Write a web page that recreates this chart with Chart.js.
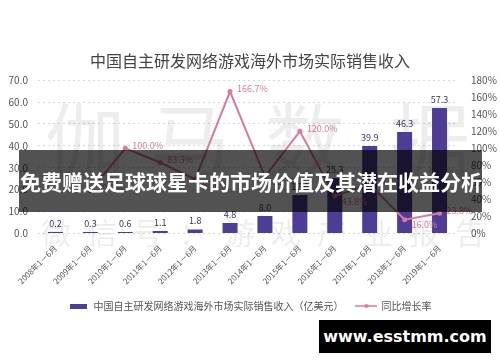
<!DOCTYPE html>
<html>
<head>
<meta charset="utf-8">
<script src="https://cdn.jsdelivr.net/npm/chart.js@4.4.1/dist/chart.umd.min.js"></script>
<style>
  html, body { margin: 0; padding: 0; background: #fff; }
  #wrap { position: relative; width: 500px; height: 362px; overflow: hidden; }
  #banner {
    position: absolute; left: 19px; top: 150px; width: 463px; height: 62px;
    background: rgba(0, 0, 0, 0.68); color: #fff;
    font: bold 21px "Noto Sans CJK SC", sans-serif; line-height: 62px;
    white-space: nowrap; padding-left: 1px; box-sizing: border-box;
  }
  #site {
    position: absolute; left: 319px; top: 320px; width: 172px; height: 33px;
    background: #000; color: #fff; text-align: center;
    font: bold 16px "DejaVu Sans", sans-serif; line-height: 33px;
  }
</style>
</head>
<body>
<div id="wrap">
  <canvas id="myChart" width="500" height="362"></canvas>
  <div id="banner">免费赠送足球球星卡的市场价值及其潜在收益分析</div>
  <div id="site">www.esstmm.com</div>
</div>
<script>
const periods = ['2008年1－6月', '2009年1－6月', '2010年1－6月', '2011年1－6月', '2012年1－6月', '2013年1－6月',
                 '2014年1－6月', '2015年1－6月', '2016年1－6月', '2017年1－6月', '2018年1－6月', '2019年1－6月'];
const revenue = [0.2, 0.3, 0.6, 1.1, 1.8, 4.8, 8.0, 17.6, 25.3, 39.9, 46.3, 57.3];
const growth = [null, 50.0, 100.0, 83.3, 63.6, 166.7, 66.7, 120.0, 43.8, 57.7, 16.0, 23.8];
const revenueTicks = [0, 10, 20, 30, 40, 50, 60, 70];
const growthTicks = [0, 20, 40, 60, 80, 100, 120, 140, 160, 180];

const barColor = '#4e3d94';
const lineColor = '#d77aa0';
const cjk = '"Noto Sans CJK SC", sans-serif';

// small images used as legend markers
function marker(w, h, draw) {
    const c = document.createElement('canvas');
    c.width = w; c.height = h;
    draw(c.getContext('2d'));
    return c;
}
const barMarker = marker(17, 5, g => { g.fillStyle = barColor; g.fillRect(0, 0, 17, 5); });
const lineMarker = marker(22, 6, g => {
    g.strokeStyle = lineColor; g.lineWidth = 1.5;
    g.beginPath(); g.moveTo(0, 3); g.lineTo(22, 3); g.stroke();
    g.fillStyle = lineColor; g.beginPath(); g.arc(11, 3, 2, 0, Math.PI * 2); g.fill();
});

// faint background watermark
const watermark = {
    id: 'watermark',
    beforeDatasetsDraw(chart) {
        const ctx = chart.ctx;
        ctx.save();
        ctx.fillStyle = 'rgba(0,0,0,0.07)';
        ctx.textAlign = 'center';
        ctx.textBaseline = 'middle';
        ctx.font = '80px ' + cjk;
        [['伽', 85], ['马', 190], ['数', 305], ['据', 430]].forEach(([t, x]) => ctx.fillText(t, x, 140));
        ctx.font = '30px ' + cjk;
        '微信号：游戏产业报告'.split('').forEach((t, i) => ctx.fillText(t, 56 + i * 46, 233));
        ctx.restore();
    }
};

// value labels for bars and line
const valueLabels = {
    id: 'valueLabels',
    afterDatasetsDraw(chart) {
        const ctx = chart.ctx;
        ctx.save();
        ctx.font = '9px ' + cjk;
        ctx.fillStyle = '#3b3566';
        ctx.textAlign = 'center';
        ctx.textBaseline = 'bottom';
        chart.getDatasetMeta(0).data.forEach((bar, i) => {
            ctx.fillText(revenue[i].toFixed(1), bar.x, bar.y - 4);
        });
        ctx.fillStyle = lineColor;
        ctx.textAlign = 'left';
        ctx.textBaseline = 'middle';
        chart.getDatasetMeta(1).data.forEach((pt, i) => {
            const v = growth[i];
            if (v === null) return;
            const prev = growth[i - 1], next = growth[i + 1];
            const dip = prev !== null && prev !== undefined && next !== undefined && v < prev && v < next;
            ctx.fillText(v.toFixed(1) + '%', pt.x + 7, pt.y + (dip ? 5 : -3));
        });
        ctx.restore();
    }
};

new Chart(document.getElementById('myChart'), {
    data: {
        labels: periods,
        datasets: [{
            type: 'bar',
            label: '中国自主研发网络游戏海外市场实际销售收入（亿美元）',
            data: revenue,
            backgroundColor: barColor,
            categoryPercentage: 1,
            barPercentage: 0.43,
            minBarLength: 1.5,
            yAxisID: 'y',
            order: 2
        }, {
            type: 'line',
            label: '同比增长率',
            data: growth,
            borderColor: lineColor,
            backgroundColor: lineColor,
            borderWidth: 2,
            pointRadius: 2.5,
            pointBackgroundColor: lineColor,
            pointBorderWidth: 0,
            tension: 0,
            yAxisID: 'y1',
            order: 1
        }]
    },
    options: {
        responsive: false,
        animation: false,
        layout: {
            padding: { left: 0, right: 0, bottom: 41 }
        },
        scales: {
            x: {
                grid: { display: false },
                border: { display: false },
                ticks: {
                    color: '#555',
                    font: { size: 8, family: cjk },
                    minRotation: 45,
                    maxRotation: 45,
                    padding: 2
                }
            },
            y: {
                position: 'left',
                min: 0,
                max: 70,
                afterBuildTicks: axis => { axis.ticks = revenueTicks.map(v => ({ value: v })); },
                afterFit: axis => { axis.width = 38; },
                grid: { color: '#d8d8d8', lineWidth: 1, drawTicks: false },
                border: { display: false, dash: [2, 3] },
                ticks: {
                    color: '#555',
                    font: { size: 10, family: cjk },
                    padding: 10,
                    callback: v => v.toFixed(1)
                }
            },
            y1: {
                position: 'right',
                min: 0,
                max: 180,
                afterBuildTicks: axis => { axis.ticks = growthTicks.map(v => ({ value: v })); },
                afterFit: axis => { axis.width = 43; },
                grid: { display: false },
                border: { display: false },
                ticks: {
                    color: '#555',
                    font: { size: 10, family: cjk },
                    padding: 6,
                    callback: v => v + '%'
                }
            }
        },
        plugins: {
            title: {
                display: true,
                text: '中国自主研发网络游戏海外市场实际销售收入',
                color: '#444',
                font: { size: 16, weight: 'normal', family: cjk },
                padding: { top: 51, bottom: 10 }
            },
            legend: {
                position: 'bottom',
                labels: {
                    color: '#555',
                    font: { size: 10, family: cjk },
                    usePointStyle: true,
                    pointStyleWidth: 20,
                    padding: 13,
                    generateLabels: chart => chart.data.datasets.map((ds, i) => ({
                        text: ds.label,
                        pointStyle: i === 0 ? barMarker : lineMarker,
                        fontColor: '#555',
                        datasetIndex: i,
                        hidden: false
                    }))
                }
            },
            tooltip: { enabled: false }
        }
    },
    plugins: [watermark, valueLabels]
});
</script>
</body>
</html>
